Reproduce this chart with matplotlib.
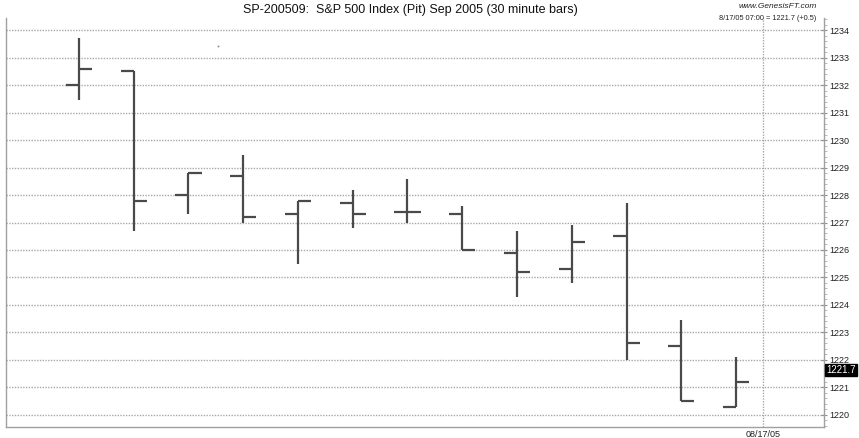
import matplotlib
matplotlib.use("Agg")
import matplotlib.pyplot as plt
import numpy as np

# ---- data (30-minute OHLC bars) ----
bar_index = list(range(1, 14))
opens  = [1232.0, 1232.5, 1228.0, 1228.7, 1227.3, 1227.7, 1227.4, 1227.3, 1225.9, 1225.3, 1226.5, 1222.5, 1220.3]
highs  = [1233.7, 1232.5, 1228.8, 1229.45, 1227.8, 1228.2, 1228.6, 1227.6, 1226.7, 1226.9, 1227.7, 1223.45, 1222.1]
lows   = [1231.45, 1226.7, 1227.3, 1227.0, 1225.5, 1226.8, 1227.0, 1226.0, 1224.3, 1224.8, 1222.0, 1220.5, 1220.3]
closes = [1232.6, 1227.8, 1228.8, 1227.2, 1227.8, 1227.3, 1227.4, 1226.0, 1225.2, 1226.3, 1222.6, 1220.5, 1221.2]
stray_x = [3.54]
stray_y = [1233.42]
y_ticks = list(range(1220, 1235))
date_x = 13.5
date_label = "08/17/05"
last_price = 1221.7
title = "SP-200509:  S&P 500 Index (Pit) Sep 2005 (30 minute bars)"
site = "www.GenesisFT.com"
quote = "8/17/05 07:00 = 1221.7 (+0.5)"

plt.rcParams['font.family'] = ['Liberation Sans', 'DejaVu Sans']

W, H = 859, 438
fig = plt.figure(figsize=(W / 100, H / 100), dpi=100)
fig.patch.set_facecolor('white')
ax = fig.add_axes([6 / W, 11 / H, (824 - 6) / W, (427 - 18) / H])

ax.set_xlim(-0.332, 14.606)
ax.set_ylim(1219.56, 1234.44)

# grid
grid_color = '#a8a8a8'
for v in y_ticks:
    ax.axhline(v, color=grid_color, lw=1.0, ls=(0, (1, 1)), zorder=1)
ax.axvline(date_x, color=grid_color, lw=1.0, ls=(0, (1, 1)), zorder=1)

# OHLC bars
bar_color = '#4a4a4a'
tick_w = 0.24
ax.vlines(bar_index, lows, highs, color=bar_color, lw=1.6, zorder=3)
ax.hlines(opens, np.array(bar_index) - tick_w, bar_index, color=bar_color, lw=1.6, zorder=3)
ax.hlines(closes, bar_index, np.array(bar_index) + tick_w, color=bar_color, lw=1.6, zorder=3)
ax.plot(stray_x, stray_y, 's', ms=1.2, color='#888888', mec='none', zorder=3)

# spines
ax.spines['top'].set_visible(False)
for s in ['left', 'bottom', 'right']:
    ax.spines[s].set_color('#a0a0a0')
    ax.spines[s].set_linewidth(1.0)

# y axis on right
ax.yaxis.tick_right()
ax.set_yticks(y_ticks)
ax.set_yticklabels([str(v) for v in y_ticks])
ax.set_yticks(np.arange(1219.6, 1234.41, 0.2), minor=True)
ax.tick_params(axis='y', which='major', length=5, width=0.8, color='#909090',
               direction='inout', labelsize=6.5, pad=1, labelcolor='#222222')
ax.tick_params(axis='y', which='minor', length=2.5, width=0.6, color='#b0b0b0', direction='out')

# x axis: only date label
ax.set_xticks([date_x])
ax.set_xticklabels([date_label])
ax.tick_params(axis='x', length=0, labelsize=6.5, pad=2, labelcolor='#222222')

# last price label
ax.text(1.003, last_price - 0.05, f"{last_price}", transform=ax.get_yaxis_transform(),
        ha='left', va='center', fontsize=7, color='white',
        bbox=dict(boxstyle='square,pad=0.1', fc='black', ec='black'), zorder=5, clip_on=False)

# texts
fig.text(410 / W, 1 - 10 / H, title, ha='center', va='center', fontsize=9, color='#111111')
fig.text(817 / W, 1 - 7 / H, site, ha='right', va='center', fontsize=6, style='italic', color='#222222')
fig.text(816 / W, 1 - 19 / H, quote, ha='right', va='center', fontsize=5.3, color='#222222')

fig.savefig('out.png', dpi=100)
